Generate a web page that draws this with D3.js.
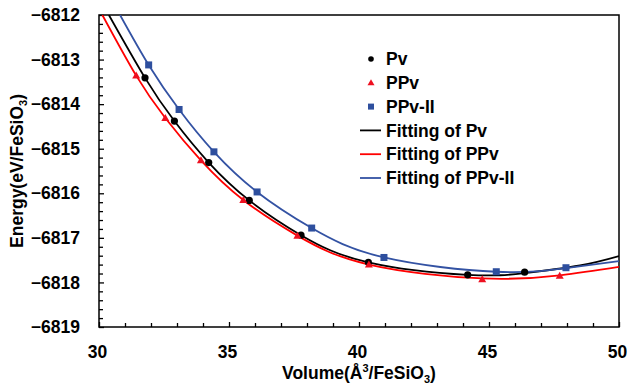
<!DOCTYPE html>
<head>
  <meta charset='utf-8'>
  <script src='https://d3js.org/d3.v7.min.js'></script>
  <style>
    body { margin: 0; background: #fff; }
    text { font-family: 'Liberation Sans', Arial, sans-serif; font-weight: bold; font-size: 17.5px; fill: #000; }
  </style>
</head>

<body>
  <script>

// measured points (volume, energy)
const pvV    = [31.77, 32.90, 34.22, 35.78, 37.77, 40.36, 44.18, 46.37];
const pvE    = [-6813.41, -6814.38, -6815.31, -6816.16, -6816.94, -6817.55, -6817.83, -6817.77];
const ppvV   = [31.43, 32.55, 33.92, 35.55, 37.63, 40.38, 44.74, 47.72];
const ppvE   = [-6813.36, -6814.31, -6815.26, -6816.15, -6816.95, -6817.60, -6817.93, -6817.85];
const ppv2V  = [31.91, 33.08, 34.42, 36.08, 38.18, 40.96, 45.28, 47.96];
const ppv2E  = [-6813.12, -6814.12, -6815.07, -6815.97, -6816.78, -6817.44, -6817.76, -6817.67];

// fitted curves
const fitPvV   = [30.38, 31.77, 32.90, 34.22, 35.78, 37.77, 40.36, 44.18, 46.37, 48.5, 50];
const fitPvE   = [-6812, -6813.41, -6814.38, -6815.31, -6816.16, -6816.94, -6817.55, -6817.83, -6817.79, -6817.62, -6817.41];
const fitPpvV  = [30.13, 31.43, 32.55, 33.92, 35.55, 37.63, 40.38, 44.74, 47.72, 50];
const fitPpvE  = [-6812, -6813.36, -6814.31, -6815.26, -6816.15, -6816.95, -6817.60, -6817.91, -6817.84, -6817.65];
const fitPpv2V = [30.81, 31.91, 33.08, 34.42, 36.08, 38.18, 40.96, 45.28, 47.96, 50];
const fitPpv2E = [-6812, -6813.12, -6814.12, -6815.07, -6815.97, -6816.78, -6817.44, -6817.76, -6817.68, -6817.52];

const xTicks = [30, 35, 40, 45, 50];
const yTicks = [-6819, -6818, -6817, -6816, -6815, -6814, -6813, -6812];

const zip = (a, b) => a.map((v, i) => [v, b[i]]);

const margin = {top: 15, right: 8, bottom: 59, left: 99},
  width = 627,
  height = 386,
  innerWidth = width - margin.left - margin.right,
  innerHeight = height - margin.top - margin.bottom;

const svg = d3.select('body').append('svg').attr('width', width).attr('height', height);
const g = svg.append('g').attr('transform', `translate(${margin.left},${margin.top})`);

const x = d3.scaleLinear().domain([30, 50]).range([0, innerWidth]);
const y = d3.scaleLinear().domain([-6819, -6812]).range([innerHeight, 0]);

svg.append('clipPath').attr('id', 'clip')
  .append('rect').attr('width', innerWidth).attr('height', innerHeight);

// frame
g.append('rect')
  .attr('width', innerWidth).attr('height', innerHeight)
  .attr('fill', 'none').attr('stroke', '#000').attr('stroke-width', 1.5);

// x axis ticks (inward)
const xMinor = d3.range(31, 50, 1).filter(v => v % 5 !== 0);
g.append('g').attr('transform', `translate(0,${innerHeight})`)
  .call(d3.axisBottom(x).tickValues(xMinor).tickSize(-4).tickFormat(''))
  .call(a => a.select('.domain').remove())
  .call(a => a.selectAll('line').attr('stroke-width', 1.3));
g.append('g').attr('transform', `translate(0,${innerHeight})`)
  .call(d3.axisBottom(x).tickValues(xTicks).tickSize(-5).tickPadding(19))
  .call(a => a.select('.domain').remove())
  .call(a => a.selectAll('line').attr('stroke-width', 1.3))
  .call(a => a.selectAll('text').attr('font-size', null).attr('font-family', null).attr('dx', -2));

// y axis ticks (inward)
const yMinor = d3.range(0, 35).map(i => -6819 + i * 0.2).filter((v, i) => i % 5 !== 0);
g.append('g')
  .call(d3.axisLeft(y).tickValues(yMinor).tickSize(-4).tickFormat(''))
  .call(a => a.select('.domain').remove())
  .call(a => a.selectAll('line').attr('stroke-width', 1.3));
g.append('g')
  .call(d3.axisLeft(y).tickValues(yTicks).tickSize(-5).tickPadding(19).tickFormat(d3.format('d')))
  .call(a => a.select('.domain').remove())
  .call(a => a.selectAll('line').attr('stroke-width', 1.3))
  .call(a => a.selectAll('text').attr('font-size', null).attr('font-family', null));

// axis titles
const xt = svg.append('text').attr('x', margin.left + innerWidth / 2).attr('y', 379).attr('text-anchor', 'middle');
xt.append('tspan').text('Volume(Å');
xt.append('tspan').attr('font-size', 11).attr('dy', -7).text('3');
xt.append('tspan').attr('dy', 7).text('/FeSiO');
xt.append('tspan').attr('font-size', 11).attr('dy', 4).text('3');
xt.append('tspan').attr('dy', -4).text(')');

const yt = svg.append('text').attr('transform', `translate(23,${margin.top + innerHeight / 2}) rotate(-90)`).attr('text-anchor', 'middle');
yt.append('tspan').text('Energy(eV/FeSiO');
yt.append('tspan').attr('font-size', 11).attr('dy', 4).text('3');
yt.append('tspan').attr('dy', -4).text(')');

// fitting lines
const line = d3.line().x(d => x(d[0])).y(d => y(d[1])).curve(d3.curveNatural);
const fits = [
  {pts: zip(fitPvV, fitPvE), color: '#000000'},
  {pts: zip(fitPpvV, fitPpvE), color: '#ff0000'},
  {pts: zip(fitPpv2V, fitPpv2E), color: '#3352a3'}
];
g.append('g').attr('clip-path', 'url(#clip)')
  .selectAll('path').data(fits).enter().append('path')
  .attr('d', d => line(d.pts))
  .attr('fill', 'none')
  .attr('stroke', d => d.color)
  .attr('stroke-width', 1.8);

// markers
const marks = g.append('g');
marks.selectAll('.pv').data(zip(pvV, pvE)).enter().append('circle')
  .attr('cx', d => x(d[0])).attr('cy', d => y(d[1])).attr('r', 3.6).attr('fill', '#000');
marks.selectAll('.ppv').data(zip(ppvV, ppvE)).enter().append('path')
  .attr('transform', d => `translate(${x(d[0])},${y(d[1])})`)
  .attr('d', 'M0,-4L4,3L-4,3Z').attr('fill', '#ee1020');
marks.selectAll('.ppv2').data(zip(ppv2V, ppv2E)).enter().append('rect')
  .attr('x', d => x(d[0]) - 3.5).attr('y', d => y(d[1]) - 3.5)
  .attr('width', 7).attr('height', 7).attr('fill', '#2e4f9e');

// legend
const legendItems = ['Pv', 'PPv', 'PPv-II', 'Fitting of Pv', 'Fitting of PPv', 'Fitting of PPv-II'];
const legend = svg.append('g').attr('transform', 'translate(371,59)')
  .selectAll('g').data(legendItems).enter().append('g')
  .attr('transform', (d, i) => `translate(0,${i * 23.8})`);
legend.append('text').attr('x', 15).attr('dy', '0.35em').text(d => d);
legend.filter((d, i) => i === 0).append('circle').attr('r', 2.8).attr('fill', '#000');
legend.filter((d, i) => i === 1).append('path').attr('d', 'M0,-3.5L3.5,2.5L-3.5,2.5Z').attr('fill', '#ee1020');
legend.filter((d, i) => i === 2).append('rect').attr('x', -3).attr('y', -3).attr('width', 6).attr('height', 6).attr('fill', '#2e4f9e');
legend.filter((d, i) => i > 2).append('line')
  .attr('x1', -11).attr('x2', 10)
  .attr('stroke', (d, i) => fits[i].color).attr('stroke-width', 1.8);

  </script>
</body>
